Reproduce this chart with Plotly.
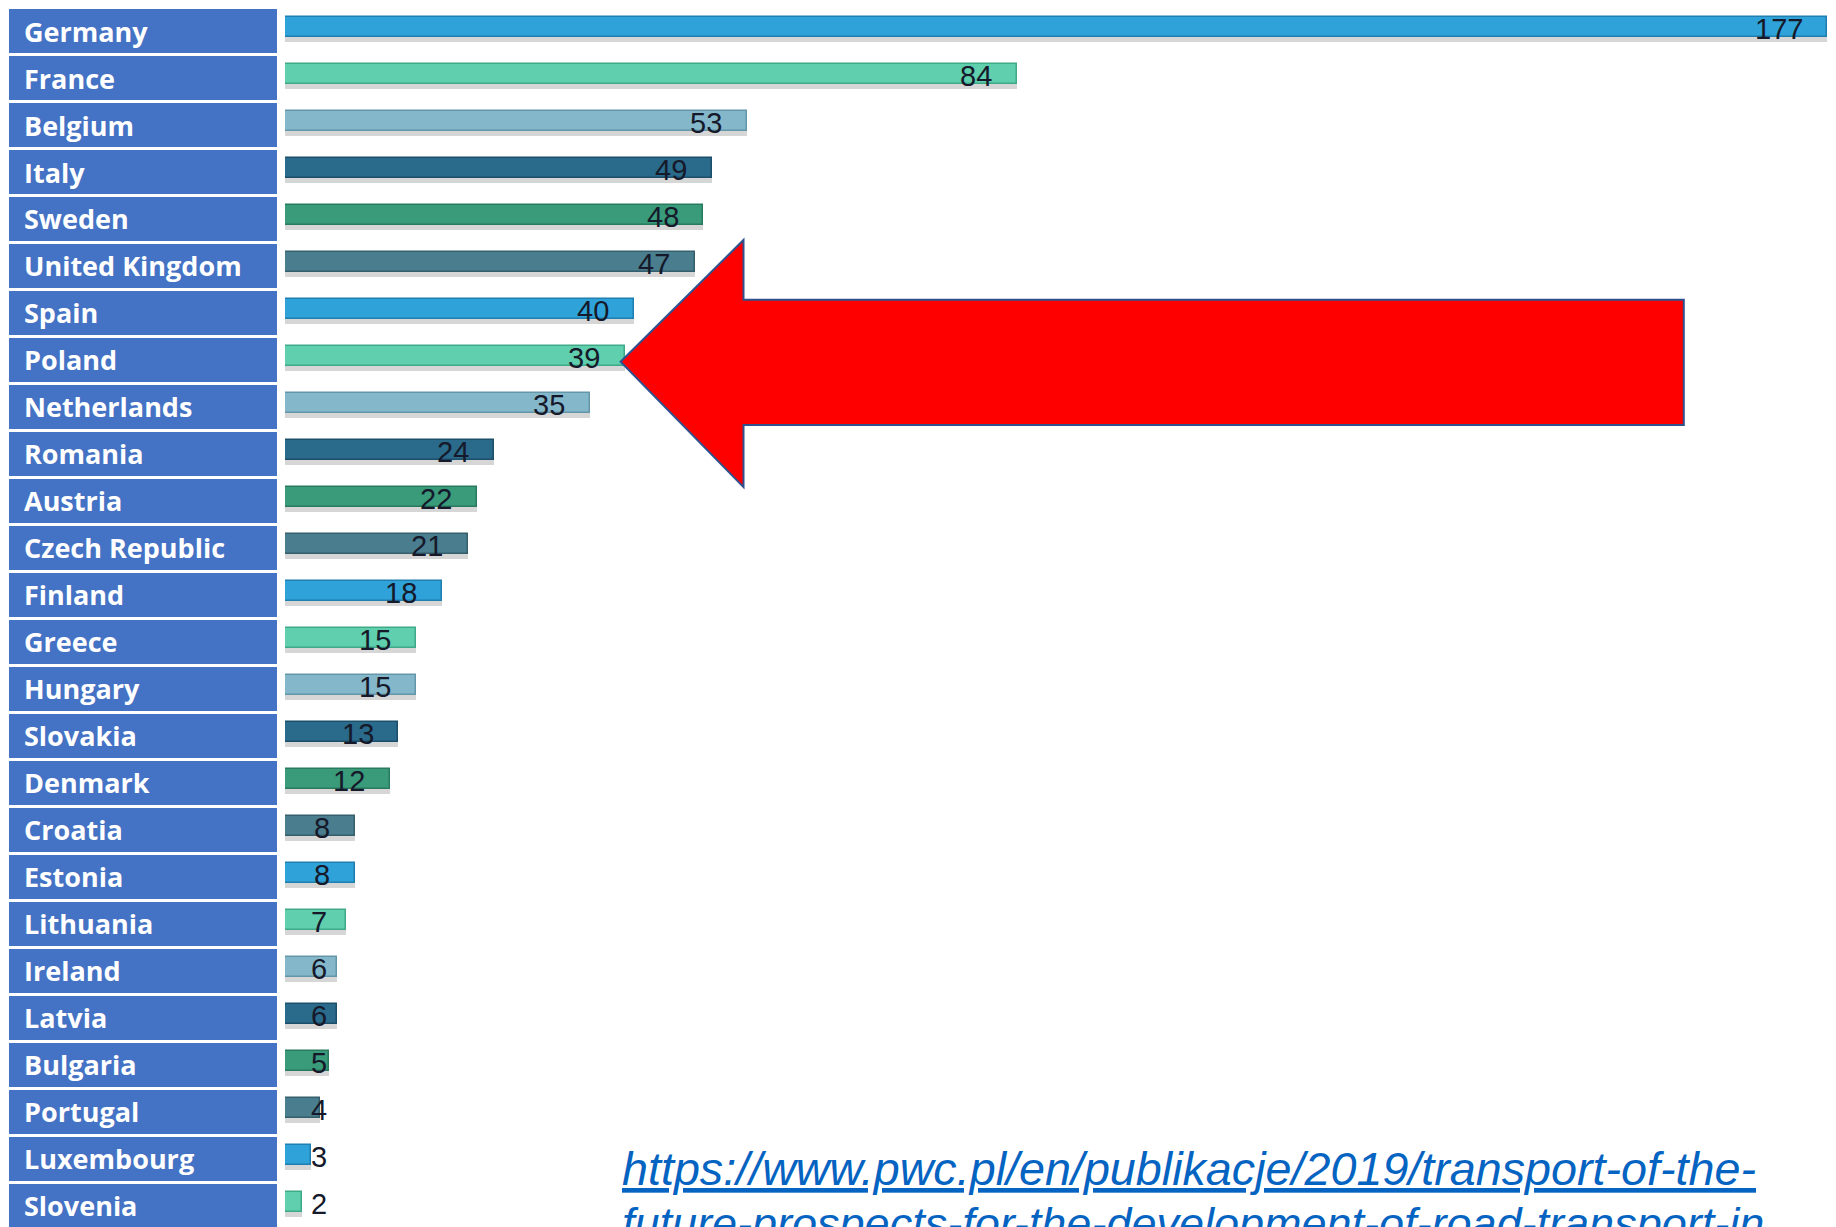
import plotly.graph_objects as go

countries = ["Germany", "France", "Belgium", "Italy", "Sweden", "United Kingdom", "Spain",
             "Poland", "Netherlands", "Romania", "Austria", "Czech Republic", "Finland",
             "Greece", "Hungary", "Slovakia", "Denmark", "Croatia", "Estonia", "Lithuania",
             "Ireland", "Latvia", "Bulgaria", "Portugal", "Luxembourg", "Slovenia"]
values = [177, 84, 53, 49, 48, 47, 40, 39, 35, 24, 22, 21, 18, 15, 15, 13, 12, 8, 8, 7, 6, 6, 5, 4, 3, 2]
link_line1 = "https://www.pwc.pl/en/publikacje/2019/transport-of-the-"
link_line2 = "future-prospects-for-the-development-of-road-transport-in"

W, H = 1836, 1227
palette = ["#2fa3d9", "#5fcfae", "#84b7ca", "#2a6a8b", "#3a9b7b", "#4a7d8e"]
edge = ["#1f7fb0", "#3fa988", "#6496a9", "#1d4f6a", "#2a7a5e", "#365f6d"]
n = len(countries)
bar_colors = [palette[i % 6] for i in range(n)]
edge_colors = [edge[i % 6] for i in range(n)]

fig = go.Figure()
# label boxes
fig.add_trace(go.Bar(y=countries, x=[1] * n, orientation="h", xaxis="x2", yaxis="y",
                     marker=dict(color="#4472c4", line=dict(width=0)), width=0.925,
                     hoverinfo="skip", showlegend=False))
# shadow
fig.add_trace(go.Bar(y=countries, x=values, orientation="h", xaxis="x", yaxis="y",
                     marker=dict(color="rgba(70,70,70,0.22)", line=dict(width=0)),
                     width=0.17, offset=0.06, hoverinfo="skip", showlegend=False))
# value bars
fig.add_trace(go.Bar(y=countries, x=values, orientation="h", xaxis="x", yaxis="y",
                     marker=dict(color=bar_colors, line=dict(color=edge_colors, width=1.5)),
                     width=0.42, offset=-0.29, showlegend=False))

ann = []
for c, v in zip(countries, values):
    ann.append(dict(xref="x2", yref="y", x=0.05, y=c, xanchor="left", yanchor="middle",
                    text="<b>%s</b>" % c, showarrow=False,
                    font=dict(family="Open Sans, sans-serif", size=27, color="white")))
    ann.append(dict(xref="x", yref="y", x=max(v - 2.6, 5.1), y=c, xanchor="right", yanchor="middle",
                    text=str(v), showarrow=False, yshift=2,
                    font=dict(family="Liberation Sans, sans-serif", size=29, color="#15192a")))

ann.append(dict(xref="paper", yref="paper", x=620 / W, y=1 - 1169 / H, xanchor="left", yanchor="middle",
                text="<i><u>%s</u></i>" % link_line1, showarrow=False,
                font=dict(family="Liberation Sans, sans-serif", size=46.7, color="#0563c1")))
ann.append(dict(xref="paper", yref="paper", x=620 / W, y=1 - 1223 / H, xanchor="left", yanchor="middle",
                text="<i><u>%s</u></i>" % link_line2, showarrow=False,
                font=dict(family="Liberation Sans, sans-serif", size=45, color="#0563c1")))

def P(x, y):
    return "%.5f,%.5f" % (x / W, 1 - y / H)

arrow_path = "M " + " L ".join([P(620.6, 361.8), P(743.5, 240.0), P(743.5, 299.7), P(1683.8, 299.7),
                                 P(1683.8, 425.0), P(743.5, 425.0), P(743.5, 487.1)]) + " Z"

fig.update_layout(
    width=W, height=H, margin=dict(l=0, r=0, t=0, b=0),
    paper_bgcolor="white", plot_bgcolor="white", barmode="overlay", bargap=0,
    xaxis=dict(domain=[285 / W, 1], range=[0, 178], visible=False, fixedrange=True),
    xaxis2=dict(domain=[9 / W, 277 / W], range=[0, 1], visible=False, anchor="y"),
    yaxis=dict(categoryorder="array", categoryarray=countries, range=[25.45, -0.66], visible=False),
    annotations=ann,
    shapes=[dict(type="path", xref="paper", yref="paper", path=arrow_path,
                 fillcolor="#ff0000", line=dict(color="#2f528f", width=2), layer="above")],
)

fig.write_html("out.html", config={"displayModeBar": False},
               post_script="document.body.style.margin='0';document.body.style.overflow='hidden';")
